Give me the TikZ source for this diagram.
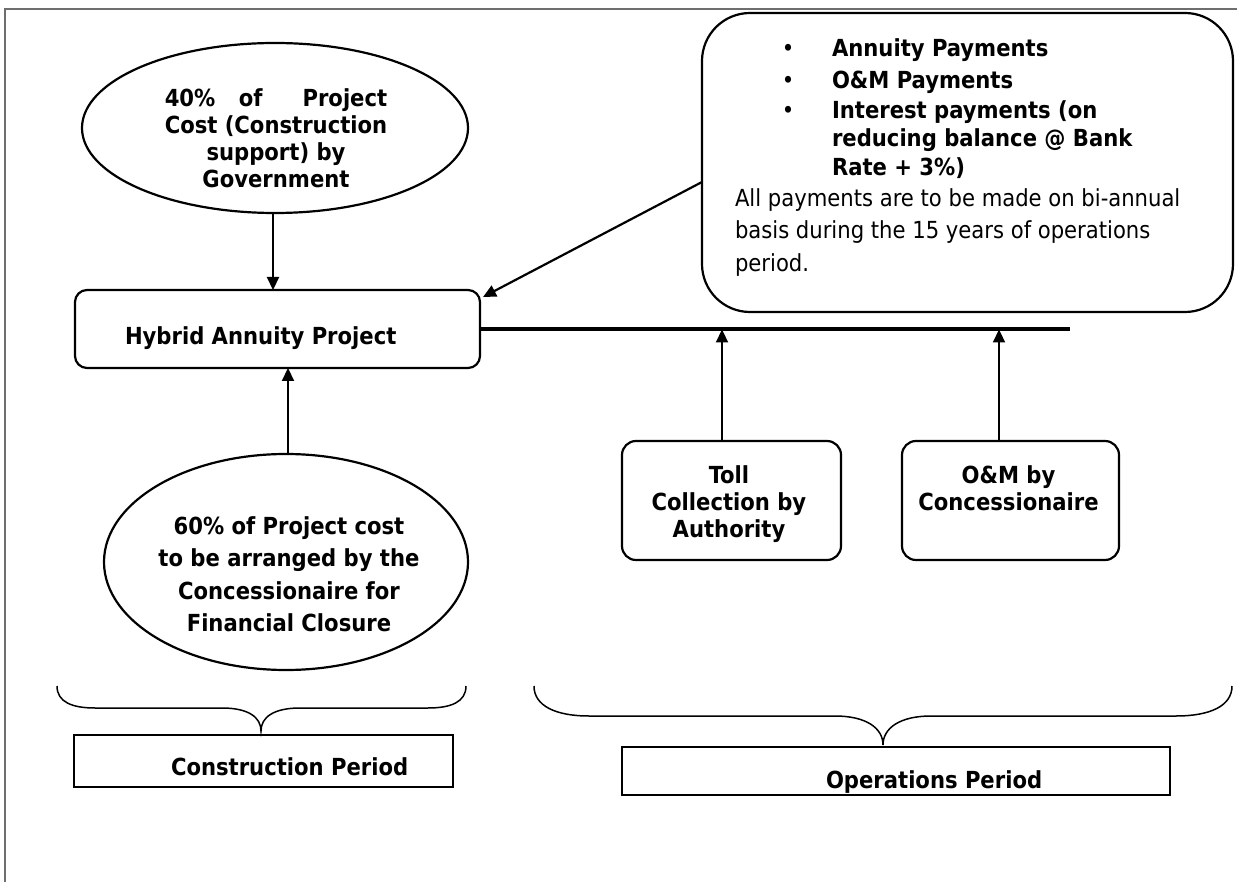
\documentclass[tikz,border=0pt]{standalone}
\usepackage{fontspec}
\setmainfont{DejaVu Sans Condensed}
\usetikzlibrary{shapes.geometric,arrows.meta,calc}
\definecolor{framec}{RGB}{110,110,110}
\newcommand\bfs{\fontsize{23.5pt}{27pt}\selectfont\bfseries}
\newcommand\rgs{\fontsize{23.5pt}{27pt}\selectfont}
\newcommand\cstack[2]{\vtop{\baselineskip=#1\relax\halign{\hfil##\hfil\cr #2\crcr}}}
\begin{document}
\begin{tikzpicture}[x=1pt,y=-1pt,
  every node/.style={inner sep=0pt,outer sep=0pt},
  shp/.style={draw,line width=2.2pt},
  ell/.style={shp,ellipse},
  rbox/.style={shp,rounded corners=#1},
  pbox/.style={draw,line width=1.6pt},
  arr/.style={line width=2.2pt,-{Triangle[length=13pt,width=12pt]}},
  brc/.style={line width=1.5pt}]
\useasboundingbox (0,0) rectangle (1237,882);
\draw[framec,line width=1.5pt] (5,882) -- (5,9) -- (1237,9);

% shapes
\node[ell,minimum width=386pt,minimum height=170pt] (gov) at (275,128) {};
\node[ell,minimum width=364pt,minimum height=216pt] (fin) at (286,562) {};
\node[rbox=12pt,minimum width=405pt,minimum height=78pt] (hap) at (277.5,329) {};
\node[rbox=14pt,minimum width=219pt,minimum height=119pt] (toll) at (731.5,500.5) {};
\node[rbox=14pt,minimum width=217pt,minimum height=119pt] (om) at (1010.5,500.5) {};
\node[rbox=48pt,minimum width=531pt,minimum height=299pt] (pay) at (967.5,162.5) {};
\node[pbox,minimum width=379pt,minimum height=52pt] (cp) at (263.5,761) {};
\node[pbox,minimum width=548pt,minimum height=48pt] (op) at (896,771) {};

% texts
\node[anchor=base,font=\bfs] (govtxt) at (276,107)
  {\cstack{27pt}{40\%\hspace{0pt plus 1fill} of\hspace{0pt plus 2fill} Project\cr Cost (Construction\cr support) by\cr Government}};
\node[anchor=base west,font=\bfs] (haptxt) at (125,345) {Hybrid Annuity Project};
\node[anchor=base,font=\bfs] (fintxt) at (289,534)
  {\cstack{32.5pt}{60\% of Project cost\cr to be arranged by the\cr Concessionaire for\cr Financial Closure}};
\node[anchor=base,font=\bfs] (tolltxt) at (729,483) {\cstack{27pt}{Toll\cr Collection by\cr Authority}};
\node[anchor=base,font=\bfs] (omtxt) at (1008.5,483) {\cstack{27pt}{O\&M by\cr Concessionaire}};

\node[anchor=base,font=\rgs] (u1) at (788,57) {•};
\node[anchor=base,font=\rgs] (u2) at (788,89) {•};
\node[anchor=base,font=\rgs] (u3) at (788,119) {•};
\node[anchor=base west,font=\bfs] (p1) at (832,57) {Annuity Payments};
\node[anchor=base west,font=\bfs] (p2) at (832,89) {O\&M Payments};
\node[anchor=base west,font=\bfs] (p3) at (832,119) {Interest payments (on};
\node[anchor=base west,font=\bfs] (p4) at (832,147) {reducing balance @ Bank};
\node[anchor=base west,font=\bfs] (p5) at (832,176) {Rate + 3\%)};
\node[anchor=base west,font=\rgs] (q1) at (735,207) {All payments are to be made on bi-annual};
\node[anchor=base west,font=\rgs] (q2) at (735,239) {basis during the 15 years of operations};
\node[anchor=base west,font=\rgs] (q3) at (735,272) {period.};

\node[anchor=base west,font=\bfs] (cptxt) at (171,775) {Construction Period};
\node[anchor=base west,font=\bfs] (optxt) at (826,788) {Operations Period};

% connectors
\coordinate (lend) at (1070,328.5);
\draw[line width=3.5pt] (hap.east) -- (hap.east -| lend);
\draw[arr] ([xshift=-2pt]gov.south) -- ([xshift=-2pt]gov.south |- hap.north);
\draw[arr] ([xshift=2pt]fin.north) -- ([xshift=2pt]fin.north |- hap.south);
\draw[arr] ($(pay.west)+(0,19.5)$) -- ($(hap.north east)+(3,7)$);
\draw[arr] ([xshift=-9.5pt]toll.north) -- ([xshift=-9.5pt,yshift=-1pt]toll.north |- lend);
\draw[arr] ([xshift=-11.5pt]om.north) -- ([xshift=-11.5pt,yshift=-1pt]om.north |- lend);

% braces
\draw[brc] (57,686) .. controls (57,702) and (72,708) .. (95,708) -- (222,708)
  .. controls (248,708) and (261,717) .. (261,731)
  .. controls (261,717) and (274,708) .. (300,708) -- (428,708)
  .. controls (451,708) and (466,702) .. (466,686);
\draw[brc] (534,686) .. controls (534,706) and (556,716) .. (589,716) -- (835,716)
  .. controls (866,716) and (883,728) .. (883,745)
  .. controls (883,728) and (900,716) .. (931,716) -- (1176,716)
  .. controls (1210,716) and (1232,706) .. (1232,686);
\end{tikzpicture}
\end{document}
